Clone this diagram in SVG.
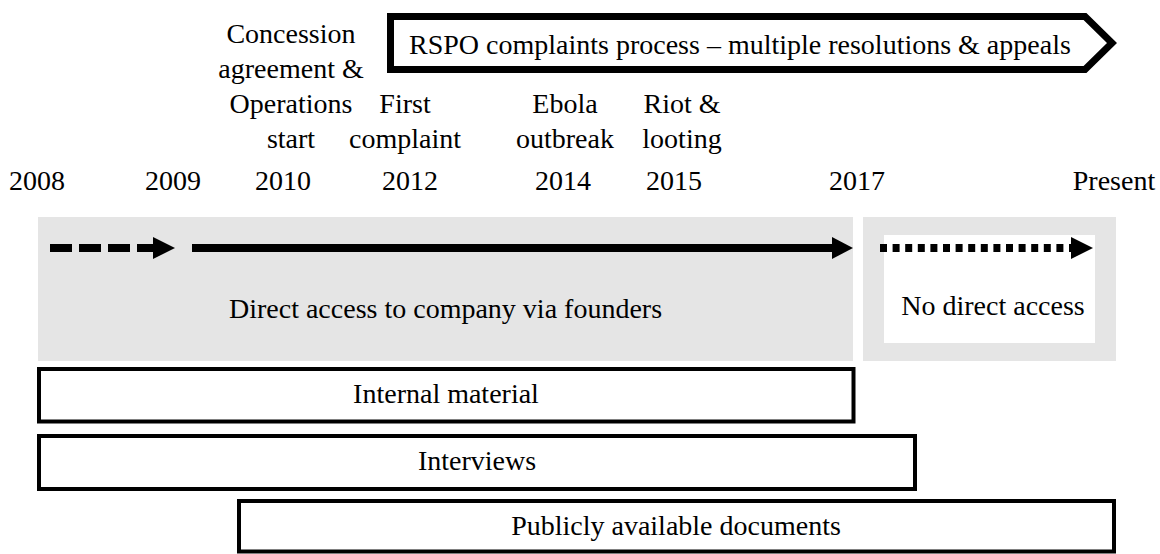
<svg xmlns="http://www.w3.org/2000/svg" width="1160" height="554" viewBox="0 0 1160 554">
<style>
text{font-family:"Liberation Serif","Times New Roman",serif;font-size:28px;fill:#000;text-anchor:middle}
.gray{fill:#e5e5e5}
.box{fill:#fff;stroke:#000;stroke-width:4}
.line{stroke:#000;stroke-width:8;fill:none}
.head{fill:#000}
</style>
<rect width="1160" height="554" fill="#fff"/>
<g id="rspo">
<polygon points="390.5,16.5 1085,16.5 1112,43 1085,69.5 390.5,69.5" fill="#fff" stroke="#000" stroke-width="7"/>
<text x="409" y="54" style="text-anchor:start">RSPO complaints process – multiple resolutions &amp; appeals</text>
</g>
<g id="events">
<text x="291" y="43">Concession</text>
<text x="291" y="78">agreement &amp;</text>
<text x="291" y="113">Operations</text>
<text x="291" y="148">start</text>
<text x="405" y="113">First</text>
<text x="405" y="148">complaint</text>
<text x="565" y="113">Ebola</text>
<text x="565" y="148">outbreak</text>
<text x="682" y="113">Riot &amp;</text>
<text x="682" y="148">looting</text>
</g>
<g id="years">
<text x="37" y="190">2008</text>
<text x="173" y="190">2009</text>
<text x="283" y="190">2010</text>
<text x="410" y="190">2012</text>
<text x="563" y="190">2014</text>
<text x="674" y="190">2015</text>
<text x="857" y="190">2017</text>
<text x="1114" y="190">Present</text>
</g>
<g id="direct-access">
<rect class="gray" x="38" y="217" width="815" height="144"/>
<text x="445.5" y="318">Direct access to company via founders</text>
</g>
<g id="no-direct-access">
<rect class="gray" x="863" y="217" width="253" height="144"/>
<rect x="884" y="235" width="211" height="108" fill="#fff"/>
<text x="993" y="315">No direct access</text>
</g>
<g id="connectors">
<line class="line" x1="50" y1="248" x2="155" y2="248" stroke-dasharray="22 7"/>
<polygon class="head" points="153,237 175,248 153,259"/>
<line class="line" x1="192" y1="248" x2="834" y2="248"/>
<polygon class="head" points="832,237 853,248 832,259"/>
<line class="line" x1="880" y1="248" x2="1071" y2="248" stroke-dasharray="7 5.6"/>
<polygon class="head" points="1071,237 1093,248 1071,259"/>
</g>
<g id="internal-material">
<rect class="box" x="39" y="369" width="814.5" height="52.5"/>
<text x="446" y="403">Internal material</text>
</g>
<g id="interviews">
<rect class="box" x="39" y="436" width="876" height="53"/>
<text x="477" y="470">Interviews</text>
</g>
<g id="public-docs">
<rect class="box" x="239" y="501" width="875" height="50.5"/>
<text x="676" y="535">Publicly available documents</text>
</g>
</svg>
